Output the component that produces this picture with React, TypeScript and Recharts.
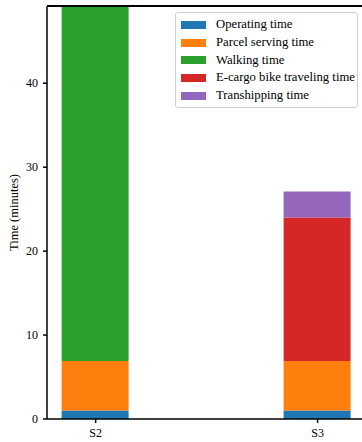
import { BarChart, Bar, XAxis, YAxis, Legend, ReferenceLine } from "recharts";

const scenarios = ["S2", "S3"];
const operatingTime = [1, 1];
const parcelServingTime = [5.9, 5.9];
const walkingTime = [45, 0];
const bikeTravelTime = [0, 17.1];
const transhippingTime = [0, 3.1];
const yTicks = [0, 10, 20, 30, 40];
const yMax = 49.2;

const series = [
  { key: "operating", name: "Operating time", color: "#1f77b4" },
  { key: "parcel", name: "Parcel serving time", color: "#ff7f0e" },
  { key: "walking", name: "Walking time", color: "#2ca02c" },
  { key: "bike", name: "E-cargo bike traveling time", color: "#d62728" },
  { key: "tranship", name: "Transhipping time", color: "#9467bd" },
];

const data = scenarios.map((s, i) => ({
  pos: i,
  name: s,
  operating: operatingTime[i],
  parcel: parcelServingTime[i],
  walking: walkingTime[i],
  bike: bikeTravelTime[i],
  tranship: transhippingTime[i],
}));

const font = "'Liberation Serif', 'Times New Roman', serif";
const tickStyle = { fill: "#000", fontSize: 12, fontFamily: font };

function LegendBox() {
  return (
    <div
      style={{
        border: "1px solid #d0d0d0",
        borderRadius: 3,
        background: "rgba(255,255,255,0.8)",
        padding: "3px 4px 3px 5px",
        fontFamily: font,
        fontSize: 12.7,
        color: "#000",
        width: 172,
      }}
    >
      {series.map((s) => (
        <div key={s.key} style={{ display: "flex", alignItems: "center", height: 17.7 }}>
          <span style={{ width: 25, height: 8, background: s.color, marginRight: 10, flexShrink: 0 }} />
          <span style={{ whiteSpace: "nowrap" }}>{s.name}</span>
        </div>
      ))}
    </div>
  );
}

export default function App() {
  return (
    <div style={{ position: "absolute", left: 0, top: 0, width: 362, height: 442, background: "#fff" }}>
      <BarChart width={362} height={442} data={data} margin={{ top: 6, right: 0, bottom: 0, left: 0 }}>
        <XAxis
          dataKey="pos"
          type="number"
          domain={[-0.219, 1.2]}
          allowDataOverflow
          ticks={[0, 1]}
          tickFormatter={(v) => scenarios[v]}
          height={23}
          tick={tickStyle}
          tickSize={4}
          tickMargin={5}
          axisLine={{ stroke: "#000", strokeWidth: 1.5 }}
          tickLine={{ stroke: "#000", strokeWidth: 1.5 }}
        />
        <YAxis
          type="number"
          domain={[0, yMax]}
          allowDataOverflow
          ticks={yTicks}
          width={47}
          tick={tickStyle}
          tickSize={4}
          tickMargin={5}
          axisLine={{ stroke: "#000", strokeWidth: 1.5 }}
          tickLine={{ stroke: "#000", strokeWidth: 1.5 }}
          label={{
            value: "Time (minutes)",
            angle: -90,
            position: "insideLeft",
            offset: 14,
            style: { textAnchor: "middle", fill: "#000", fontSize: 12.5, fontFamily: font },
          }}
        />
        {series.map((s) => (
          <Bar
            key={s.key}
            dataKey={s.key}
            name={s.name}
            stackId="a"
            fill={s.color}
            barSize={67}
            isAnimationActive={false}
          />
        ))}
        {/* top spine */}
        <ReferenceLine y={yMax} stroke="#000" strokeWidth={2} ifOverflow="extendDomain" />
        <Legend
          layout="vertical"
          align="center"
          verticalAlign="middle"
          wrapperStyle={{ position: "absolute", left: 175, top: 12, width: "auto" }}
          content={() => <LegendBox />}
        />
      </BarChart>
    </div>
  );
}
